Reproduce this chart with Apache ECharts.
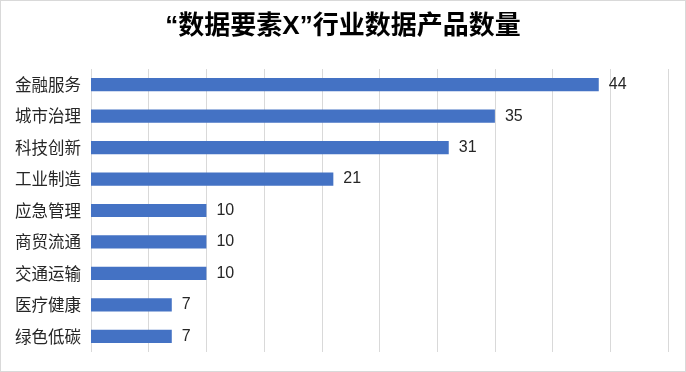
<!DOCTYPE html>
<html><head><meta charset="utf-8">
<script src="https://cdn.jsdelivr.net/npm/echarts@6/dist/echarts.min.js"></script>
<style>html,body{margin:0;padding:0;background:#fff}#c{width:686px;height:372px;box-sizing:border-box;border:1px solid #d9d9d9}</style>
</head><body><div id="c"></div>
<script>
const titleText = '“数据要素X”行业数据产品数量';
const categories = ['金融服务','城市治理','科技创新','工业制造','应急管理','商贸流通','交通运输','医疗健康','绿色低碳'];
const values = [44,35,31,21,10,10,10,7,7];

const chart = echarts.init(document.getElementById('c'));
chart.setOption({
  backgroundColor: '#fff',
  animation: false,
  title: {
    text: titleText, left: 'center', top: 8,
    textStyle: {fontFamily: '"Liberation Sans", "Noto Sans CJK SC"', fontWeight: 'bold', fontSize: 26, color: '#000'}
  },
  grid: {left: 90, right: 17, top: 68, bottom: 19, containLabel: false},
  xAxis: {
    type: 'value', min: 0, max: 50, interval: 5,
    axisLabel: {show: false}, axisLine: {show: false}, axisTick: {show: false},
    splitLine: {lineStyle: {color: '#d9d9d9', width: 1}}
  },
  yAxis: {
    type: 'category', data: categories, inverse: true,
    axisLine: {show: false}, axisTick: {show: false},
    axisLabel: {fontFamily: 'Noto Sans CJK SC', fontSize: 16.5, color: '#262626', margin: 10}
  },
  series: [{
    type: 'bar', data: values, barCategoryGap: '58%',
    itemStyle: {color: '#4472c4'},
    label: {show: true, position: 'right', distance: 10, fontFamily: '"Liberation Sans", "Noto Sans CJK SC"', fontSize: 16, color: '#262626'}
  }]
});
</script></body></html>
